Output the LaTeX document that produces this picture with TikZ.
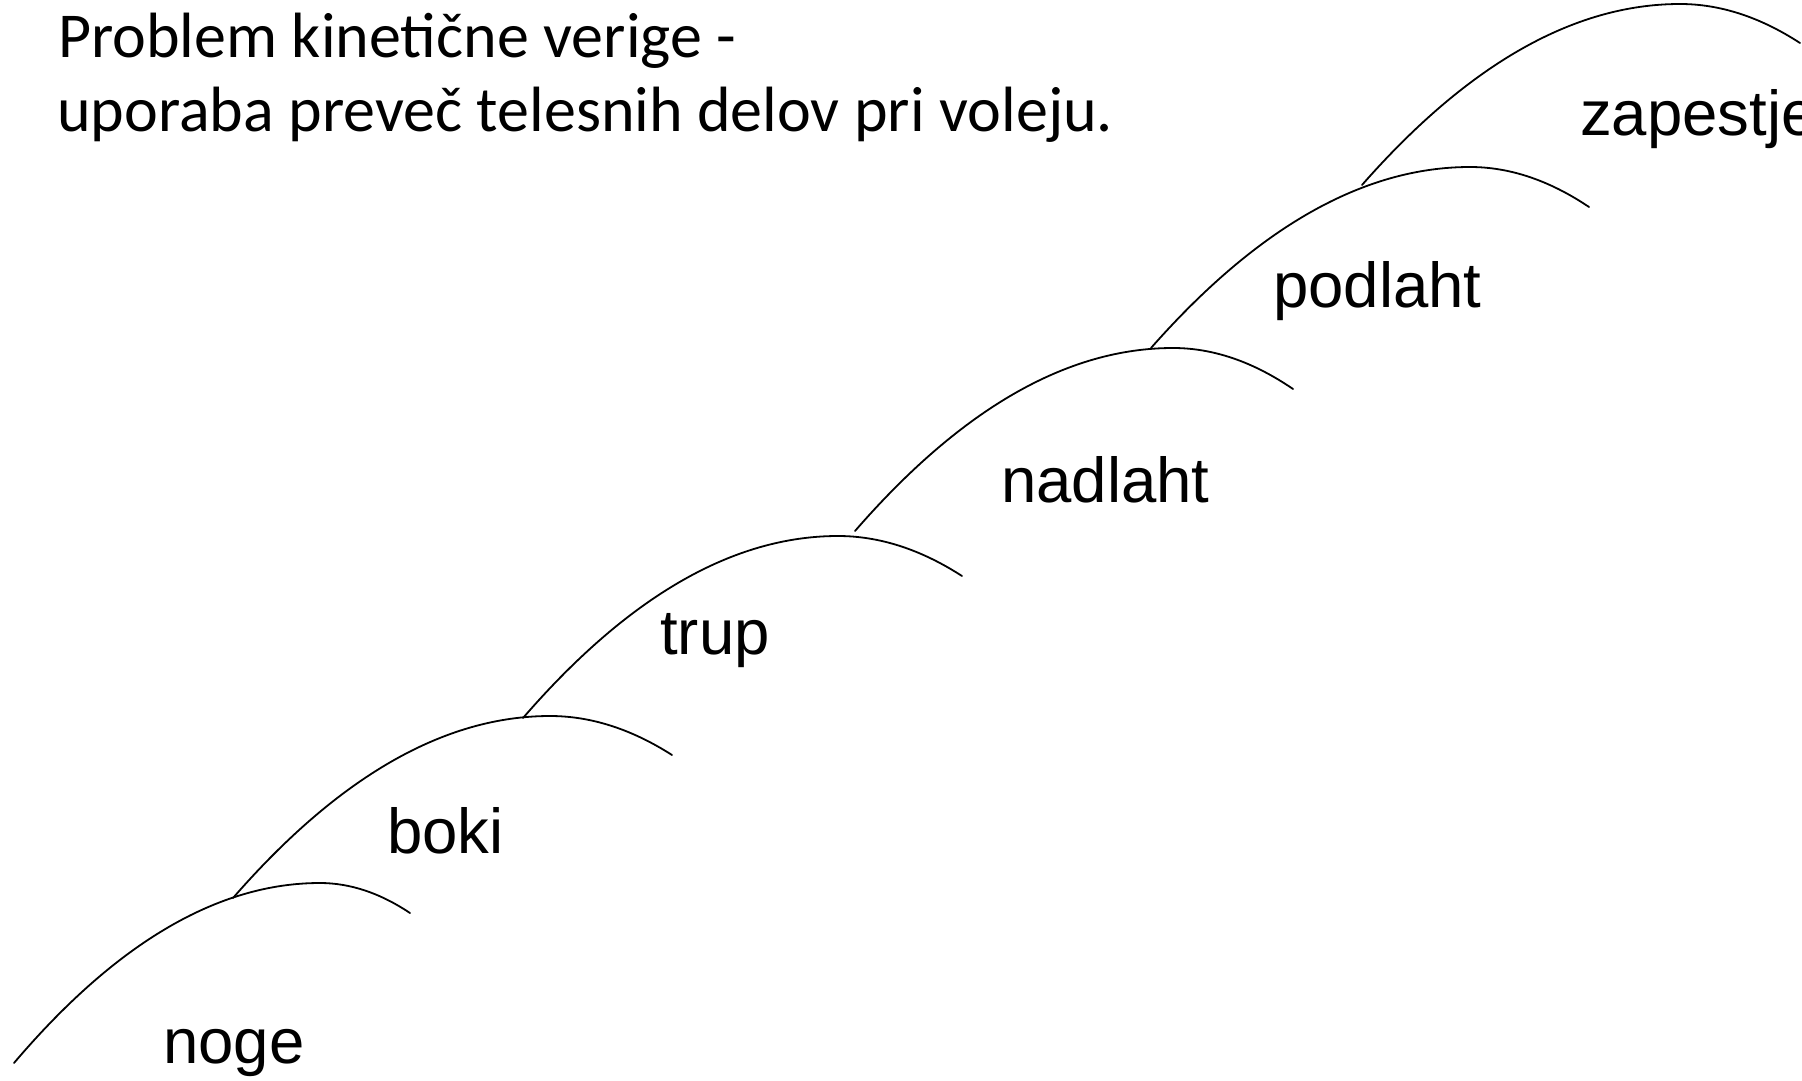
\documentclass[tikz,border=0pt]{standalone}
\usepackage{fontspec}
\usetikzlibrary{calc}
\newfontfamily\titlefont{Carlito}
\newfontfamily\labelfont{Liberation Sans}
\tikzset{
  chainline/.style={line width=1.8pt, line cap=round},
  partlabel/.style={anchor=base west, inner sep=0pt, font=\labelfont\fontsize{63.5}{70}\selectfont},
  titletext/.style={anchor=base west, inner sep=0pt, font=\titlefont\fontsize{64}{74}\selectfont}
}
\newcommand\chainarc[3]{%
  \draw[chainline] let \p1=(#1), \p2=(#2), \p3=(#3) in
    (\p1) .. controls ({\x1+(\x2-\x1)/3},{\y1+2*(\y2-\y1)/3}) and ({\x2-(\x2-\x1)/3},\y2) .. (\p2)
          .. controls ({\x2+(\x3-\x2)/3},\y2) and ({\x3-(\x3-\x2)/3},{\y3-2*(\y3-\y2)/3}) .. (\p3);}
\begin{document}
\begin{tikzpicture}[x=1pt,y=-1pt]
\useasboundingbox[fill=white] (0,0) rectangle (1802,1081);
% arc points: start, peak, end
\coordinate (s1) at (14,1063);   \coordinate (p1) at (320,883);  \coordinate (e1) at (410,913);
\coordinate (s2) at (233,898);   \coordinate (p2) at (550,716);  \coordinate (e2) at (672,755);
\coordinate (s3) at (523,718);   \coordinate (p3) at (838,536);  \coordinate (e3) at (962,576);
\coordinate (s4) at (855,531);   \coordinate (p4) at (1173,348); \coordinate (e4) at (1293,389);
\coordinate (s5) at (1151,348);  \coordinate (p5) at (1470,167); \coordinate (e5) at (1589,207);
\coordinate (s6) at (1362,185);  \coordinate (p6) at (1680,4);   \coordinate (e6) at (1800,43);
\chainarc{s1}{p1}{e1}
\chainarc{s2}{p2}{e2}
\chainarc{s3}{p3}{e3}
\chainarc{s4}{p4}{e4}
\chainarc{s5}{p5}{e5}
\chainarc{s6}{p6}{e6}
% labels
\node[partlabel] (noge) at (163,1063) {noge};
\node[partlabel] (boki) at (387,853) {boki};
\node[partlabel] (trup) at (660,654) {trup};
\node[partlabel] (nadlaht) at (1001,502) {nadlaht};
\node[partlabel] (podlaht) at (1273,307) {podlaht};
\node[partlabel] (zapestje) at (1580,135) {zapestje};
% title
\node[titletext] (title1) at (58,58) {Problem kinetične verige -};
\node[titletext] (title2) at (57,131) {uporaba preveč telesnih delov pri voleju.};
\end{tikzpicture}
\end{document}
